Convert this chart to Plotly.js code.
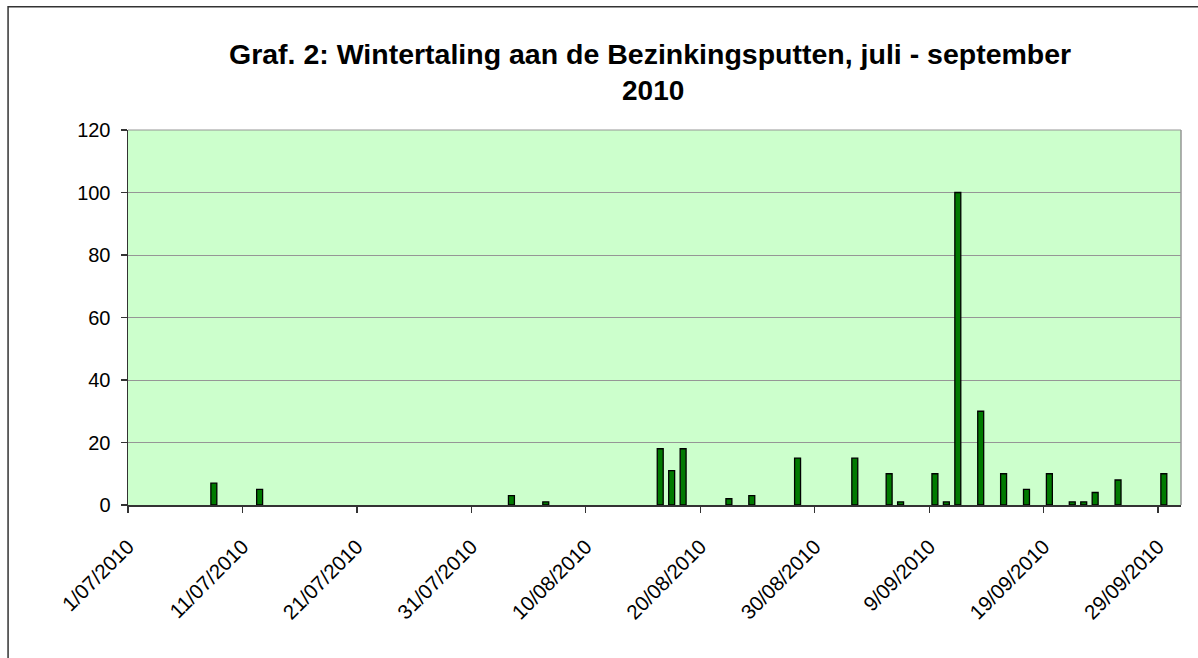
<!DOCTYPE html>
<html>
<head>
<meta charset="utf-8">
<script src="https://cdn.plot.ly/plotly-3.0.1.min.js"></script>
<style>
  html, body { margin: 0; padding: 0; background: #ffffff; }
  #chart { width: 1198px; height: 658px; }
</style>
</head>
<body>
<div id="chart"></div>
<script>
// Data
var dates = [
  '2010-07-08', '2010-07-12', '2010-08-03', '2010-08-06',
  '2010-08-16', '2010-08-17', '2010-08-18', '2010-08-22',
  '2010-08-24', '2010-08-28', '2010-09-02', '2010-09-05',
  '2010-09-06', '2010-09-09', '2010-09-10', '2010-09-11',
  '2010-09-13', '2010-09-15', '2010-09-17', '2010-09-19',
  '2010-09-21', '2010-09-22', '2010-09-23', '2010-09-25',
  '2010-09-29'
];
var counts = [
  7, 5, 3, 1,
  18, 11, 18, 2,
  3, 15, 15, 10,
  1, 10, 1, 100,
  30, 10, 5, 10,
  1, 1, 4, 8,
  10
];
var titleLine1 = 'Graf. 2: Wintertaling aan de Bezinkingsputten, juli - september';
var titleLine2 = '2010';
var xRange = ['2010-07-01', '2010-10-01'];
var yTicks = [0, 20, 40, 60, 80, 100, 120];

var DAY = 86400000;
var font = 'Liberation Sans, Arial, sans-serif';

var trace = {
  type: 'bar',
  x: dates,
  y: counts,
  xperiod: DAY,
  xperiodalignment: 'middle',
  width: 0.52 * DAY,
  marker: { color: '#007A00', line: { color: '#000000', width: 1.3 } },
  hoverinfo: 'x+y'
};

var layout = {
  width: 1198,
  height: 658,
  margin: { l: 128, r: 16.5, t: 130, b: 152.7, pad: 0 },
  paper_bgcolor: '#ffffff',
  plot_bgcolor: '#CCFFCC',
  showlegend: false,
  font: { family: font, color: '#000000', size: 19 },
  xaxis: {
    type: 'date',
    range: xRange,
    tick0: '2010-07-01',
    dtick: 10 * DAY,
    tickformat: '%-d/%m/%Y',
    tickangle: -45,
    ticks: 'outside',
    ticklen: 6,
    tickcolor: '#333333',
    tickwidth: 1.3,
    showgrid: false,
    showline: true,
    linecolor: '#333333',
    linewidth: 1.5,
    zeroline: false,
    tickfont: { family: font, size: 20.5, color: '#000000' },
    ticklabelstandoff: 14,
    fixedrange: true
  },
  yaxis: {
    range: [0, 120],
    tickvals: yTicks,
    ticks: 'outside',
    ticklen: 6,
    tickcolor: '#333333',
    tickwidth: 1.3,
    showgrid: true,
    gridcolor: '#969696',
    gridwidth: 1,
    showline: true,
    linecolor: '#333333',
    linewidth: 1.5,
    zeroline: false,
    tickfont: { family: font, size: 20, color: '#000000' },
    ticklabelstandoff: 6,
    fixedrange: true
  },
  annotations: [
    {
      text: '<b>' + titleLine1 + '</b>',
      xref: 'paper', yref: 'paper',
      x: 0.4955, y: 1.2029,
      xanchor: 'center', yanchor: 'middle',
      showarrow: false,
      font: { family: font, size: 28.5, color: '#000000' }
    },
    {
      text: '<b>' + titleLine2 + '</b>',
      xref: 'paper', yref: 'paper',
      x: 0.4985, y: 1.1044,
      xanchor: 'center', yanchor: 'middle',
      showarrow: false,
      font: { family: font, size: 28, color: '#000000' }
    }
  ],
  shapes: [
    // outer chart frame (extends past the right and bottom of the picture)
    {
      type: 'rect', xref: 'paper', yref: 'paper',
      x0: -0.1139, x1: 1.2, y0: -0.6, y1: 1.329,
      line: { color: '#333333', width: 1.5 },
      fillcolor: 'rgba(0,0,0,0)', layer: 'below'
    },
    // top and right plot-area border in grey
    {
      type: 'line', xref: 'paper', yref: 'paper',
      x0: 0, x1: 1, y0: 1, y1: 1,
      line: { color: '#969696', width: 1 }
    },
    {
      type: 'line', xref: 'paper', yref: 'paper',
      x0: 1, x1: 1, y0: 0, y1: 1,
      line: { color: '#969696', width: 1.5 }
    }
  ]
};

Plotly.newPlot('chart', [trace], layout, { displayModeBar: false, staticPlot: true });
</script>
</body>
</html>
